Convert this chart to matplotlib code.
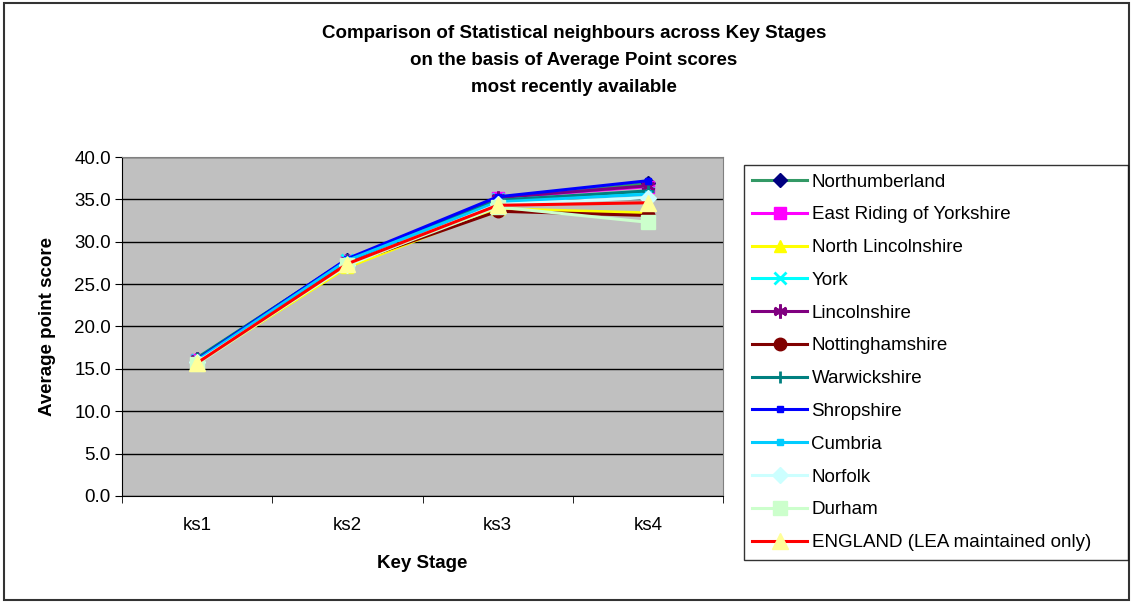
import matplotlib.pyplot as plt
from matplotlib.patches import Rectangle

plt.rcParams['font.family'] = ['Liberation Sans', 'DejaVu Sans']

stages = ['ks1', 'ks2', 'ks3', 'ks4']

# average point scores per authority (ks1, ks2, ks3, ks4)
northumberland = [16.2, 27.9, 35.0, 36.9]
east_riding = [16.1, 27.7, 35.2, 36.5]
north_lincs = [15.7, 27.0, 33.9, 33.4]
york = [16.0, 27.8, 35.0, 35.7]
lincolnshire = [16.2, 27.7, 35.2, 36.6]
nottinghamshire = [15.8, 27.4, 33.6, 33.1]
warwickshire = [16.3, 27.9, 34.9, 36.0]
shropshire = [16.1, 28.0, 35.3, 37.2]
cumbria = [16.0, 27.8, 34.7, 35.6]
norfolk = [15.8, 27.2, 34.4, 35.2]
durham = [15.6, 27.3, 34.1, 32.3]
england = [15.7, 27.4, 34.3, 34.6]

names = ['Northumberland', 'East Riding of Yorkshire', 'North Lincolnshire', 'York',
         'Lincolnshire', 'Nottinghamshire', 'Warwickshire', 'Shropshire', 'Cumbria',
         'Norfolk', 'Durham', 'ENGLAND (LEA maintained only)']
series = [northumberland, east_riding, north_lincs, york, lincolnshire, nottinghamshire,
          warwickshire, shropshire, cumbria, norfolk, durham, england]

asterisk = (6, 2, 0)
# (line colour, marker, marker face, marker size)
styles = [
    ('#339966', 'D', '#000080', 7),
    ('#FF00FF', 's', '#FF00FF', 8),
    ('#FFFF00', '^', '#FFFF00', 9),
    ('#00FFFF', 'x', '#00FFFF', 9),
    ('#800080', asterisk, '#800080', 10),
    ('#800000', 'o', '#800000', 9),
    ('#008080', '+', '#008080', 9),
    ('#0000FF', 's', '#0000FF', 4),
    ('#00CCFF', 's', '#00CCFF', 5),
    ('#CCFFFF', 'D', '#CCFFFF', 8),
    ('#CCFFCC', 's', '#CCFFCC', 10),
    ('#FF0000', '^', '#FFFF99', 11),
]
line_markers = ('x', '+', asterisk)

fs = 13.5  # main text size

fig = plt.figure(figsize=(11.31, 6.02), dpi=100)
ax = fig.add_axes([0.1079, 0.1761, 0.5314, 0.5631])
ax.set_facecolor('#C0C0C0')

x = list(range(1, len(stages) + 1))
handles = []
for vals, name, (lc, mk, mf, ms) in zip(series, names, styles):
    is_line = mk in line_markers
    mew = 2 if is_line else 1
    mec = lc if is_line else mf
    if name == 'Northumberland':
        mec = '#000080'
    h, = ax.plot(x, vals, color=lc, lw=2.2, marker=mk, markersize=ms,
                 markerfacecolor=mf, markeredgecolor=mec, markeredgewidth=mew,
                 label=name)
    handles.append(h)

ax.set_xlim(0.5, 4.5)
ax.set_ylim(0, 40)
yt = [0, 5, 10, 15, 20, 25, 30, 35, 40]
ax.set_yticks(yt)
ax.set_yticklabels([f'{v:.1f}' for v in yt], fontsize=fs)
ax.set_xticks(x)
ax.set_xticklabels(stages, fontsize=fs)
ax.set_xticks([0.5, 1.5, 2.5, 3.5, 4.5], minor=True)
ax.tick_params(axis='x', which='major', length=0, pad=15)
ax.tick_params(axis='x', which='minor', length=5, direction='out')
ax.tick_params(axis='y', length=5, direction='out', pad=3)
ax.grid(axis='y', color='black', lw=1)
ax.set_axisbelow(True)
for side in ['top', 'right']:
    ax.spines[side].set_color('#808080')
for side in ['left', 'bottom']:
    ax.spines[side].set_color('black')

ax.set_xlabel('Key Stage', fontsize=fs, fontweight='bold', labelpad=15)
ax.set_ylabel('Average point score', fontsize=fs, fontweight='bold', labelpad=13)

title_lines = ['Comparison of Statistical neighbours across Key Stages',
               'on the basis of Average Point scores',
               'most recently available']
for i, line in enumerate(title_lines):
    fig.text(0.5075, 1 - (33 + 27.5 * i) / 602, line, ha='center', va='center',
             fontsize=fs, fontweight='bold')

leg = fig.legend(handles=handles, loc='upper left',
                 bbox_to_anchor=(744 / 1131, 1 - 165 / 602, 384 / 1131, 0.0),
                 mode='expand', fontsize=fs, frameon=True, fancybox=False,
                 handlelength=2.9, handletextpad=0.25, labelspacing=0.835,
                 borderpad=0.45, borderaxespad=0)
leg.get_frame().set_edgecolor('black')
leg.get_frame().set_linewidth(1)

# outer chart border
fig.patches.append(Rectangle((4 / 1131, 2 / 602), 1125 / 1131, 597 / 602,
                             transform=fig.transFigure, fill=False,
                             edgecolor='#333333', lw=1.5))

fig.savefig('out.png', dpi=100)
